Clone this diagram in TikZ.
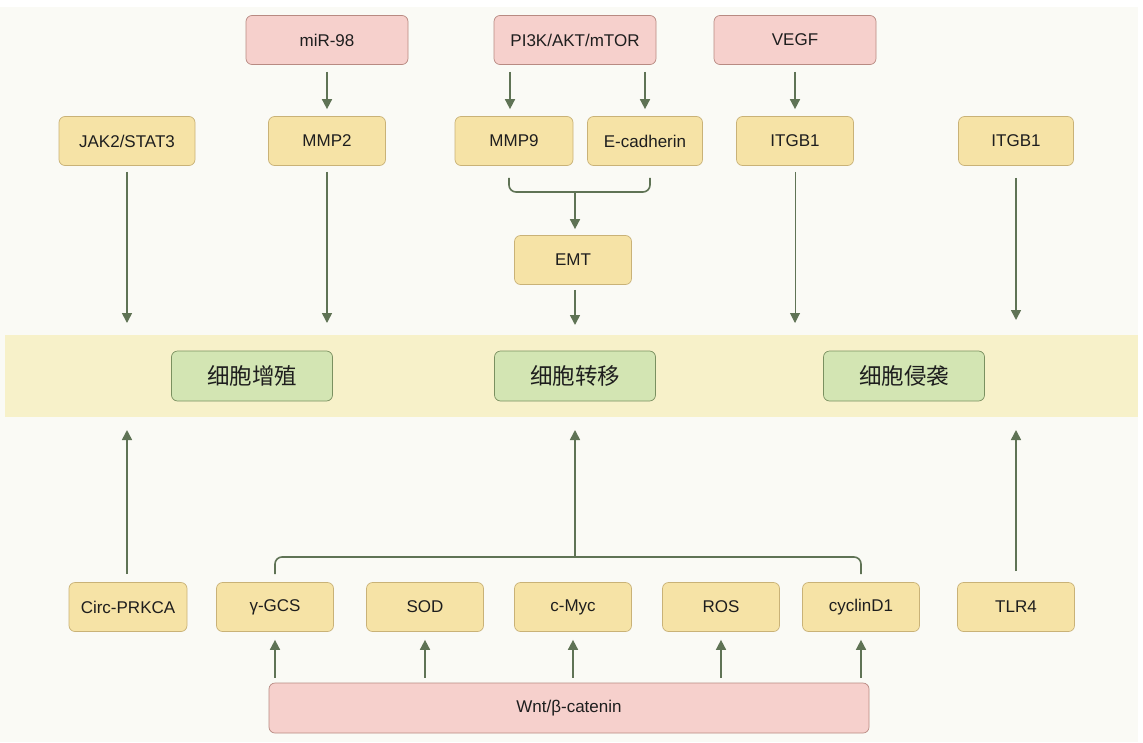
\documentclass[tikz,border=0pt]{standalone}
\usepackage{fontspec}
\setmainfont{Liberation Sans}
\newfontfamily\cjk{Noto Sans CJK SC}
\usetikzlibrary{arrows.meta,calc}
\definecolor{bgc}{HTML}{FAFAF5}
\definecolor{bandc}{HTML}{F7F1C9}
\definecolor{pinkf}{HTML}{F6D0CC}
\definecolor{pinkd}{HTML}{B88A82}
\definecolor{yelf}{HTML}{F6E3A6}
\definecolor{yeld}{HTML}{C9B277}
\definecolor{grnf}{HTML}{D3E5B3}
\definecolor{grnd}{HTML}{7A9060}
\definecolor{arrc}{HTML}{5F7355}
\definecolor{txtc}{HTML}{1E1E1E}
\tikzset{
  boxbase/.style={draw, rounded corners=6pt, minimum height=49pt, line width=0.7pt,
    font=\fontsize{17}{20}\selectfont, text=txtc, inner sep=2pt},
  redbox/.style={boxbase, fill=pinkf, draw=pinkd, minimum width=162pt},
  ybox/.style={boxbase, fill=yelf, draw=yeld, minimum width=117pt},
  gbox/.style={boxbase, fill=grnf, draw=grnd, minimum width=161pt, minimum height=50pt,
    font=\cjk\fontsize{22.5}{26}\selectfont},
  conn/.style={draw=arrc, line width=1.6pt},
  arr/.style={conn, -{Triangle[width=10pt,length=10pt]}},
  brk/.style={conn, rounded corners=7pt}
}
\begin{document}
\begin{tikzpicture}[x=1pt,y=-1pt]
\useasboundingbox (0,0) rectangle (1143,742);
\fill[white] (0,0) rectangle (1143,742);
\fill[bgc] (0,7) rectangle (1138,742);
\fill[bandc] (5,335) rectangle (1138,417);

% top row
\node[redbox] (mir) at (327,40) {miR-98};
\node[redbox] (pik) at (575,40) {PI3K/AKT/mTOR};
\node[redbox] (vegf) at (795,40) {VEGF};

% second row
\node[ybox, minimum width=136pt] (jak) at (127,141) {JAK2/STAT3};
\node[ybox] (mmp2) at (327,141) {MMP2};
\node[ybox, minimum width=118pt] (mmp9) at (514,141) {MMP9};
\node[ybox, minimum width=115pt] (ecad) at (645,141) {E-cadherin};
\node[ybox] (itg1) at (795,141) {ITGB1};
\node[ybox, minimum width=115pt] (itg2) at (1016,141) {ITGB1};
\node[ybox] (emt) at (573,260) {EMT};

% band
\node[gbox] (prol) at (252,376) {细胞增殖};
\node[gbox] (metas) at (575,376) {细胞转移};
\node[gbox] (inva) at (904,376) {细胞侵袭};
\coordinate (t1) at (127,335);
\coordinate (t2) at (327,335);
\coordinate (t3) at (575,335);
\coordinate (t4) at (795,335);
\coordinate (t5) at (1016,335);
\coordinate (u1) at (127,417);
\coordinate (u3) at (575,417);
\coordinate (u5) at (1016,417);

% bottom row
\node[ybox, minimum width=118pt] (circ) at (128,607) {Circ-PRKCA};
\node[ybox] (gcs) at (275,607) {γ-GCS};
\node[ybox] (sod) at (425,607) {SOD};
\node[ybox] (myc) at (573,607) {c-Myc};
\node[ybox] (ros) at (721,607) {ROS};
\node[ybox] (ccd) at (861,607) {cyclinD1};
\node[ybox] (tlr) at (1016,607) {TLR4};
\node[redbox, minimum width=600pt, minimum height=50pt] (wnt) at (569,708) {Wnt/β-catenin};

% top arrows
\draw[arr, shorten <=7pt, shorten >=7pt] (mir) -- (mmp2);
\draw[arr, shorten <=7pt, shorten >=7pt] (vegf) -- (itg1);
\draw[arr, shorten <=7pt, shorten >=7pt] (pik.south -| 510,0) -- (mmp9.north -| 510,0);
\draw[arr, shorten <=7pt, shorten >=7pt] (pik.south -| ecad) -- (ecad.north);

% bracket MMP9 / E-cadherin -> EMT
\coordinate (bm) at (575,192);
\draw[brk] ($(mmp9.south -| 509,0)+(0,12)$) -- (509,192) -- (650,192) -- ($(ecad.south -| 650,0)+(0,12)$);
\draw[arr, shorten >=6pt] (bm) -- (emt.north -| bm);

% long arrows to band
\draw[arr, shorten <=6pt, shorten >=12pt] (jak) -- (t1);
\draw[arr, shorten <=6pt, shorten >=12pt] (mmp2) -- (t2);
\draw[arr, shorten <=5pt, shorten >=10pt] (emt.south -| t3) -- (t3);
\draw[arr, line width=1pt, shorten <=6pt, shorten >=12pt] (itg1) -- (t4);
\draw[arr, shorten <=12pt, shorten >=15pt] (itg2) -- (t5);

% upward arrows from bottom
\draw[arr, shorten <=8pt, shorten >=13pt] (circ.north -| u1) -- (u1);
\draw[arr, shorten <=11pt, shorten >=13pt] (tlr) -- (u5);
\coordinate (bb) at (575,557);
\draw[brk] ($(gcs.north)+(0,-8)$) -- (275,557) -- (861,557) -- ($(ccd.north)+(0,-8)$);
\draw[arr, shorten >=13pt] (bb) -- (u3);

% Wnt arrows
\foreach \n in {gcs,sod,myc,ros,ccd}{
  \draw[arr, shorten <=5pt, shorten >=8pt] (wnt.north -| \n) -- (\n.south);
}
\end{tikzpicture}
\end{document}
